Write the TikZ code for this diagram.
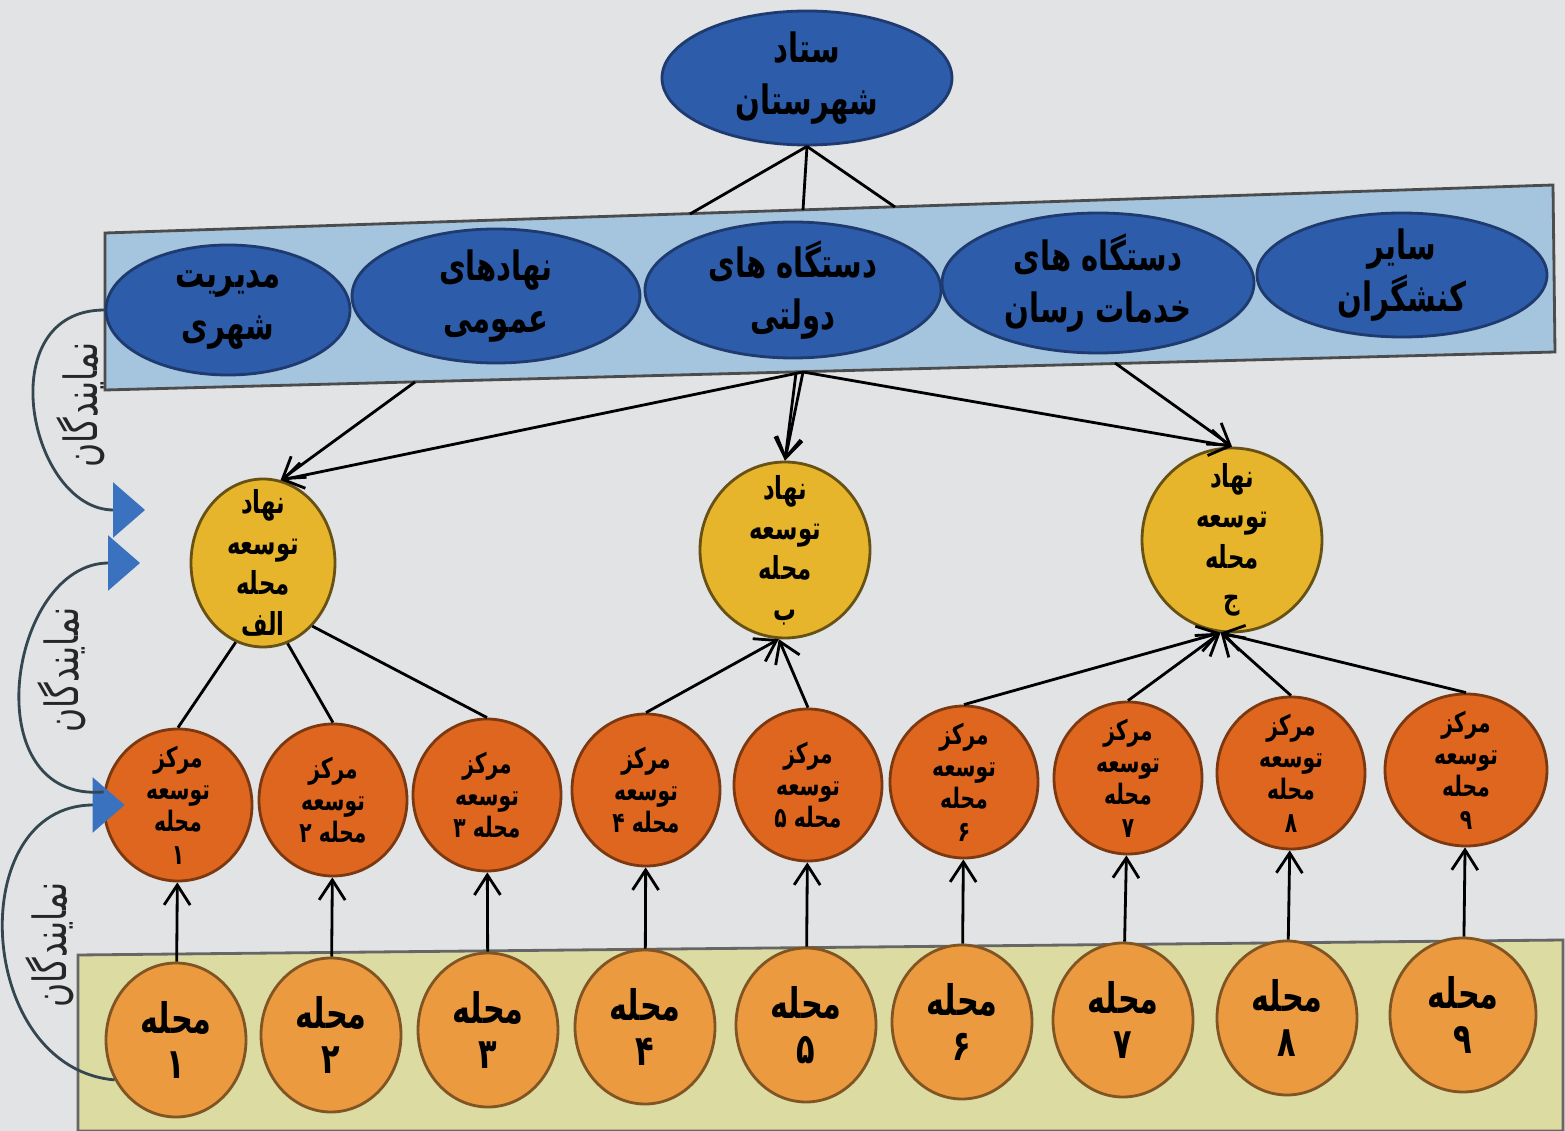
\documentclass[tikz,border=0pt]{standalone}
\usepackage{graphicx}
\usepackage{fontspec}
\newfontfamily\farsi[Script=Arabic]{DejaVu Sans}
\TeXXeTstate=1
\usetikzlibrary{shapes.geometric,arrows.meta}
\definecolor{bgray}{HTML}{E1E3E4}
\definecolor{dblue}{HTML}{2D5DAA}
\definecolor{dbline}{HTML}{1E3A6E}
\definecolor{lblue}{HTML}{A5C4DD}
\definecolor{nyellow}{HTML}{E6B52C}
\definecolor{norange}{HTML}{DF661F}
\definecolor{morange}{HTML}{EB9A3F}
\definecolor{lolive}{HTML}{DCDBA2}
\definecolor{tblue}{HTML}{3A72C0}
\definecolor{agray}{HTML}{34464F}
\newcommand{\fa}[1]{\scalebox{0.72}[1]{\beginR #1\endR}}

\begin{document}
\begin{tikzpicture}[x=0.1mm, y=-0.1mm, thick,
  oval/.style = {draw=dbline, fill=dblue, ellipse, inner sep=-1mm, align=center,
    minimum width=29mm, minimum height=13.4mm, font=\farsi\bfseries\fontsize{11.5}{15}\selectfont},
  nahad/.style = {draw=black!55!nyellow, fill=nyellow, ellipse, inner sep=-2.2mm, align=center,
    minimum width=17mm, minimum height=17.6mm, font=\farsi\bfseries\fontsize{9}{11.5}\selectfont},
  markaz/.style = {draw=black!45!norange, fill=norange, ellipse, inner sep=-1.6mm, align=center,
    minimum width=14.8mm, minimum height=15.2mm, font=\farsi\bfseries\fontsize{8}{9.2}\selectfont},
  mahal/.style = {draw=black!45!morange, fill=morange, ellipse, inner sep=0pt, align=center,
    minimum width=14mm, minimum height=15.4mm, font=\farsi\bfseries\fontsize{12}{13}\selectfont},
  arr/.style = {-{Straight Barb[length=2mm,width=2.6mm]}},
  rep/.style = {draw=agray, thick, -{Triangle[length=3.2mm,width=5.5mm,color=tblue]}},
  replabel/.style = {rotate=90, font=\farsi\fontsize{13}{15}\selectfont, text=black!85}]
\fill[bgray] (0,0) rectangle (1565,1131);
\useasboundingbox (0,0) rectangle (1565,1131);

\draw[draw=black!70, fill=lblue] (105,233) -- (1553,185) -- (1555,352) -- (105,390) -- cycle;
\draw[draw=black!60, fill=lolive] (78,955) -- (1563,940) -- (1563,1131) -- (78,1131) -- cycle;

\coordinate (t1) at (690,214);
\coordinate (t2) at (803,210);
\coordinate (t3) at (895,207);
\coordinate (d1) at (415,382);
\coordinate (d2) at (796,373);
\coordinate (d3) at (803,372);
\coordinate (d4) at (1115,363);
\coordinate (p1) at (140,563);
\coordinate (p2) at (145,510);

\node[oval] (s) at (807,78) {\fa{ستاد}\\\fa{شهرستان}};
\node[oval, minimum width=24.4mm, minimum height=13mm] (b1) at (228,310) {\fa{مدیریت}\\\fa{شهری}};
\node[oval, minimum width=28.8mm] (b2) at (496,296) {\fa{نهادهای}\\\fa{عمومی}};
\node[oval, minimum width=29.6mm, minimum height=13.6mm] (b3) at (793,290) {\fa{دستگاه های}\\\fa{دولتی}};
\node[oval, minimum width=31.2mm, minimum height=14mm] (b4) at (1098,283) {\fa{دستگاه های}\\\fa{خدمات رسان}};
\node[oval, minimum height=12.4mm] (b5) at (1402,275) {\fa{سایر}\\\fa{کنشگران}};

\node[nahad, minimum width=14.4mm, minimum height=16.8mm] (y1) at (263,563) {\fa{نهاد}\\\fa{توسعه}\\\fa{محله}\\\fa{الف}};
\node[nahad] (y2) at (785,550) {\fa{نهاد}\\\fa{توسعه}\\\fa{محله}\\\fa{ب}};
\node[nahad, minimum width=18mm, minimum height=18.4mm] (y3) at (1232,540) {\fa{نهاد}\\\fa{توسعه}\\\fa{محله}\\\fa{ج}};

\node[markaz] (c1) at (178,805) {\fa{مرکز}\\\fa{توسعه}\\\fa{محله}\\\fa{۱}};
\node[markaz] (c2) at (333,800) {\fa{مرکز}\\\fa{توسعه}\\\fa{محله ۲}};
\node[markaz] (c3) at (487,795) {\fa{مرکز}\\\fa{توسعه}\\\fa{محله ۳}};
\node[markaz] (c4) at (646,790) {\fa{مرکز}\\\fa{توسعه}\\\fa{محله ۴}};
\node[markaz] (c5) at (808,785) {\fa{مرکز}\\\fa{توسعه}\\\fa{محله ۵}};
\node[markaz] (c6) at (964,782) {\fa{مرکز}\\\fa{توسعه}\\\fa{محله}\\\fa{۶}};
\node[markaz] (c7) at (1128,778) {\fa{مرکز}\\\fa{توسعه}\\\fa{محله}\\\fa{۷}};
\node[markaz] (c8) at (1291,773) {\fa{مرکز}\\\fa{توسعه}\\\fa{محله}\\\fa{۸}};
\node[markaz, minimum width=16.2mm] (c9) at (1466,770) {\fa{مرکز}\\\fa{توسعه}\\\fa{محله}\\\fa{۹}};

\node[mahal] (m1) at (176,1040) {\fa{محله}\\\fa{۱}};
\node[mahal] (m2) at (331,1035) {\fa{محله}\\\fa{۲}};
\node[mahal] (m3) at (488,1030) {\fa{محله}\\\fa{۳}};
\node[mahal] (m4) at (645,1027) {\fa{محله}\\\fa{۴}};
\node[mahal] (m5) at (806,1025) {\fa{محله}\\\fa{۵}};
\node[mahal] (m6) at (962,1022) {\fa{محله}\\\fa{۶}};
\node[mahal] (m7) at (1123,1020) {\fa{محله}\\\fa{۷}};
\node[mahal] (m8) at (1287,1018) {\fa{محله}\\\fa{۸}};
\node[mahal, minimum width=14.6mm] (m9) at (1463,1015) {\fa{محله}\\\fa{۹}};

\draw (s.south) -- (t1);
\draw (s.south) -- (t2);
\draw (s.south) -- (t3);

\draw[arr] (d1) -- (y1.78);
\draw[arr] (d3) -- (y1.78);
\draw[arr] (d2) -- (y2.north);
\draw[arr] (d3) -- (y2.north);
\draw[arr] (d3) -- (y3.north);
\draw[arr] (d4) -- (y3.north);

\draw (y1.251) -- (c1.north);
\draw (y1.287) -- (c2.north);
\draw (y1.308) -- (c3.north);
\draw[arr] (c4.north) -- (y2.266);
\draw[arr] (c5.north) -- (y2.266);
\draw[arr] (c6.north) -- (y3.263);
\draw[arr] (c7.north) -- (y3.263);
\draw[arr] (c8.north) -- (y3.263);
\draw[arr] (c9.north) -- (y3.263);

\draw[arr] (m1) -- (c1);
\draw[arr] (m2) -- (c2);
\draw[arr] (m3) -- (c3);
\draw[arr] (m4) -- (c4);
\draw[arr] (m5) -- (c5);
\draw[arr] (m6) -- (c6);
\draw[arr] (m7) -- (c7);
\draw[arr] (m8) -- (c8);
\draw[arr] (m9) -- (c9);

\draw[rep, shorten >=-2.2mm] (m1.213) to[out=175, in=180, looseness=1.3] (c1.west);
\draw[rep] (c1.170) to[out=185, in=180, looseness=1.45] (p1);
\draw[rep] (b1.west) to[out=180, in=180, looseness=1.45] (p2);
\node[replabel] (l1) at (50,945) {\fa{نمایندگان}};
\node[replabel] (l2) at (62,670) {\fa{نمایندگان}};
\node[replabel] (l3) at (81,405) {\fa{نمایندگان}};
\end{tikzpicture}
\end{document}
